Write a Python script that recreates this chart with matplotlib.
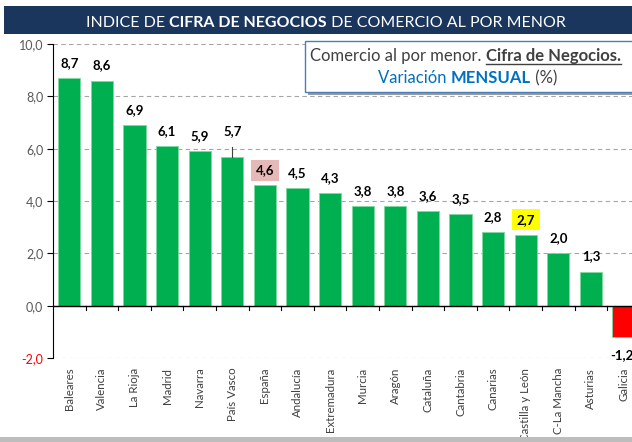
import matplotlib
matplotlib.use("Agg")
import matplotlib.pyplot as plt
from matplotlib.patches import Rectangle

# data
regions = ["Baleares", "Valencia", "La Rioja", "Madrid", "Navarra", "País Vasco",
           "España", "Andalucía", "Extremadura", "Murcia", "Aragón", "Cataluña",
           "Cantabria", "Canarias", "Castilla y León", "C-La Mancha", "Asturias",
           "Galicia"]
values = [8.7, 8.6, 6.9, 6.1, 5.9, 5.7, 4.6, 4.5, 4.3, 3.8, 3.8, 3.6, 3.5,
          2.8, 2.7, 2.0, 1.3, -1.2]
yticks = [-2, 0, 2, 4, 6, 8, 10]

plt.rcParams["font.family"] = ["Lato", "DejaVu Sans"]

W, H = 632, 442
fig = plt.figure(figsize=(W / 100, H / 100), dpi=100)


def fx(px):
    return px / W


def fy(py):
    return 1 - py / H


# title banner and bottom band
fig.patches.append(Rectangle((fx(4), fy(34)), fx(640), 28 / H, transform=fig.transFigure,
                             facecolor="#1B365D", edgecolor="none"))
fig.patches.append(Rectangle((0, 0), 1, 5 / H, transform=fig.transFigure,
                             facecolor="#BDBDBD", edgecolor="none"))


def run_text(x, y, parts, size):
    # draw consecutive text pieces on one line, return the extents
    renderer = fig.canvas.get_renderer()
    exts = []
    for txt, color, weight in parts:
        t = fig.text(x, y, txt, color=color, fontsize=size, fontweight=weight,
                     va="baseline", ha="left", zorder=7)
        bb = t.get_window_extent(renderer)
        exts.append(bb)
        x = bb.x1 / W
    return exts


def run_width(parts, size):
    renderer = fig.canvas.get_renderer()
    w = 0
    for txt, color, weight in parts:
        t = fig.text(0, 0, txt, fontsize=size, fontweight=weight)
        w += t.get_window_extent(renderer).width
        t.remove()
    return w


title_parts = [("INDICE DE ", "white", "normal"),
               ("CIFRA DE NEGOCIOS", "white", "bold"),
               (" DE COMERCIO AL POR MENOR", "white", "normal")]
tw = run_width(title_parts, 11.5)
run_text(fx(326) - tw / 2 / W, fy(27), title_parts, 11.5)

ax = fig.add_axes([fx(53), fy(358), 18 * 32.6 / W, 314 / H])
x = range(len(regions))
colors = ["#00B050" if v >= 0 else "#FF0000" for v in values]
ax.bar(x, values, width=0.68, color=colors, edgecolor="#7FD8A0", linewidth=0.6, zorder=3)

ax.set_xlim(-0.5, len(regions) - 0.5)
ax.set_ylim(-2, 10)
ax.set_yticks(yticks)
ax.set_yticklabels([f"{v:.1f}".replace(".", ",") for v in yticks], fontsize=9, color="#595959")
ax.get_yticklabels()[0].set_color("#FF0000")
ax.yaxis.grid(True, linestyle=(0, (4, 3)), color="#A6A6A6", linewidth=0.8)
ax.set_axisbelow(True)
ax.tick_params(axis="y", direction="out", length=4, color="black", pad=3)
ax.tick_params(axis="x", length=0, pad=7)
ax.set_xticks(list(x))
ax.set_xticklabels(regions, rotation=90, fontsize=8.3, color="#404040", va="top")
for s in ["top", "right", "bottom"]:
    ax.spines[s].set_visible(False)
ax.spines["left"].set_color("black")
ax.axhline(0, color="black", linewidth=1, zorder=4)
for i in range(len(regions)):
    ax.plot([i + 0.5, i + 0.5], [0, -0.15], color="black", linewidth=0.8, zorder=4)

for i, v in enumerate(values):
    lab = f"{v:.1f}".replace(".", ",")
    box = None
    if regions[i] == "España":
        box = dict(boxstyle="square,pad=0.35", facecolor="#E6B9B8", edgecolor="none")
    elif regions[i] == "Castilla y León":
        box = dict(boxstyle="square,pad=0.35", facecolor="#FFFF00", edgecolor="none")
    if v >= 0:
        yy = v + 0.35
        if regions[i] == "País Vasco":
            yy = v + 0.75
            ax.plot([i, i], [v, v + 0.38], color="#404040", linewidth=0.8, zorder=4)
        ax.text(i, yy, lab, ha="center", va="bottom", fontsize=9.5, fontweight="bold",
                bbox=box, zorder=5)
    else:
        ax.text(i - 0.05, v - 0.45, lab, ha="center", va="top", fontsize=9.5,
                fontweight="bold", zorder=5)

# annotation box
fig.patches.append(Rectangle((fx(308), fy(95)), fx(340), 51 / H, transform=fig.transFigure,
                             facecolor="#9A9A9A", edgecolor="none", zorder=5))
fig.patches.append(Rectangle((fx(305), fy(92)), fx(340), 51 / H, transform=fig.transFigure,
                             facecolor="white", edgecolor="#4A7EBB", linewidth=1, zorder=6))
line1 = [("Comercio al por menor. ", "#404040", "normal"),
         ("Cifra de Negocios.", "#404040", "bold")]
ex = run_text(fx(310), fy(61), line1, 12)
fig.lines.append(plt.Line2D([ex[1].x0 / W, ex[1].x1 / W], [fy(64), fy(64)],
                            transform=fig.transFigure, color="#404040", linewidth=1, zorder=7))
line2 = [("Variación ", "#0070C0", "normal"),
         ("MENSUAL", "#0070C0", "bold"),
         (" (%)", "#404040", "normal")]
w2 = run_width(line2, 12)
run_text(fx(468) - w2 / 2 / W, fy(83), line2, 12)

fig.savefig("out.png", dpi=100)
